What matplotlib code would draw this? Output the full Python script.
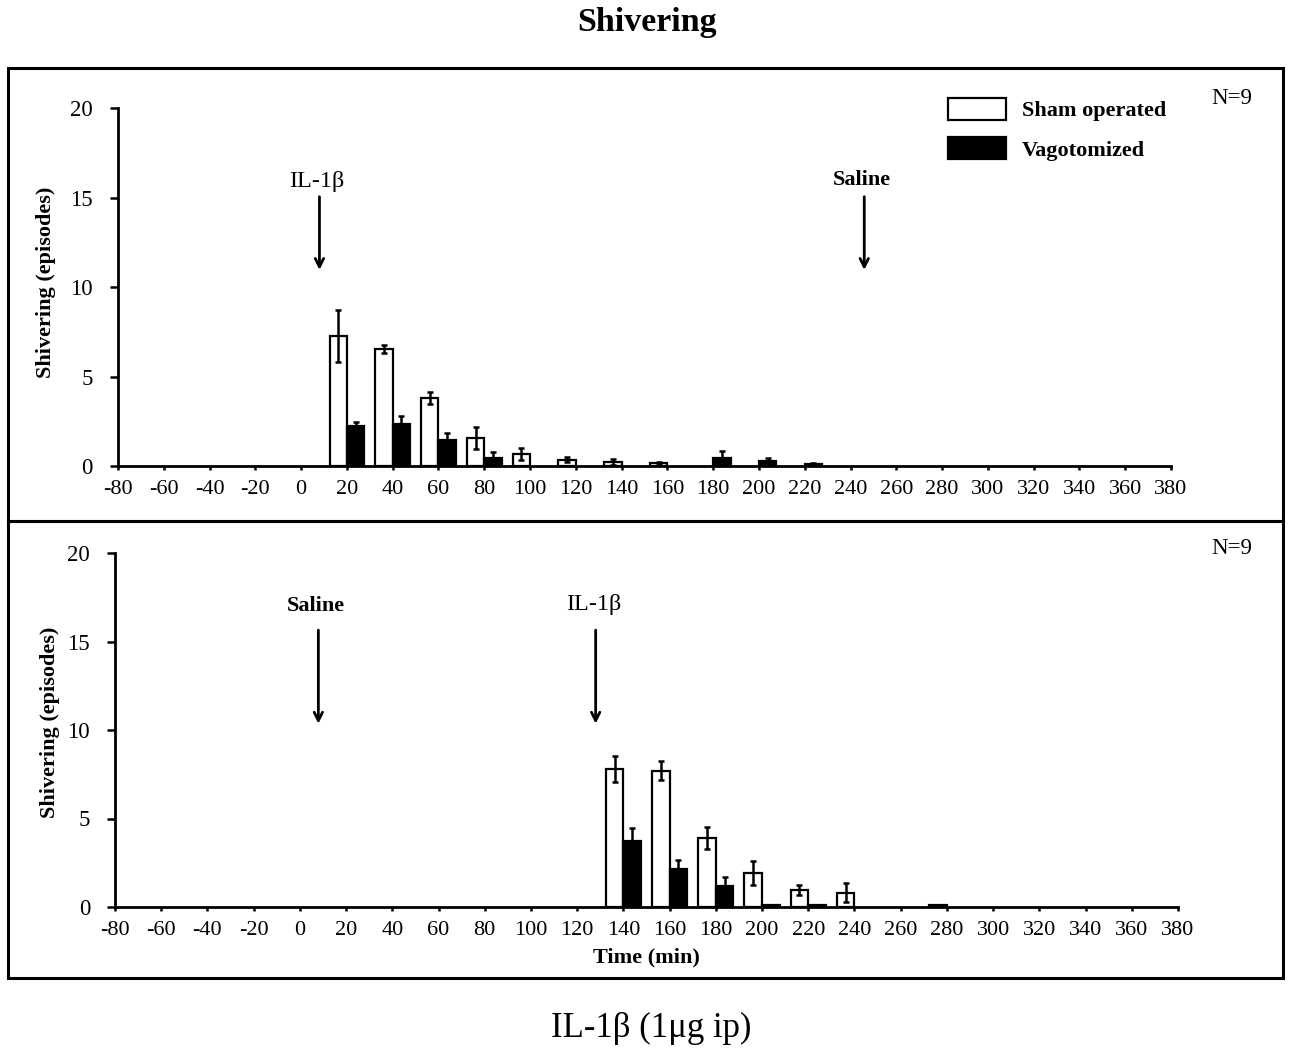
import matplotlib
matplotlib.use('Agg')
import matplotlib.pyplot as plt
from matplotlib.patches import Rectangle
import numpy as np

plt.rcParams['font.family'] = ['Liberation Serif', 'DejaVu Serif']

# ---- data ----
time_ticks = list(range(-80, 381, 20))
y_ticks = [0, 5, 10, 15, 20]

top_times = [20, 40, 60, 80, 100, 120, 140, 160, 180, 200, 220]
top_sham = [7.25, 6.54, 3.79, 1.55, 0.65, 0.35, 0.24, 0.15, 0, 0, 0]
top_sham_err = [1.45, 0.24, 0.34, 0.62, 0.34, 0.15, 0.17, 0.05, 0, 0, 0]
top_vago = [2.24, 2.33, 1.46, 0.47, 0, 0, 0, 0, 0.47, 0.28, 0.13]
top_vago_err = [0.2, 0.49, 0.41, 0.3, 0, 0, 0, 0, 0.39, 0.15, 0.05]

bot_times = [140, 160, 180, 200, 220, 240, 260, 280]
bot_sham = [7.8, 7.7, 3.9, 1.9, 0.96, 0.81, 0, 0.09]
bot_sham_err = [0.71, 0.55, 0.64, 0.68, 0.26, 0.53, 0, 0.04]
bot_vago = [3.75, 2.15, 1.17, 0.09, 0.11, 0, 0, 0]
bot_vago_err = [0.71, 0.53, 0.55, 0.03, 0.03, 0, 0, 0]

series_labels = ['Sham operated', 'Vagotomized']

# annotations: (label, x, y_text, y_arrow_start, y_arrow_end, bold)
top_marks = [('IL-1β', 8, 15.9, 15.2, 10.8, False),
             ('Saline', 246, 16.0, 15.2, 10.8, True)]
bot_marks = [('Saline', 8, 17.0, 15.8, 10.2, True),
             ('IL-1β', 128, 17.1, 15.8, 10.2, False)]

W, H = 1290, 1050
fig = plt.figure(figsize=(W / 100, H / 100), dpi=100)


def fx(px):
    return px / W


def fy(py):
    return 1 - py / H


bar_w = 7.6


def draw_panel(ax, times, sham, sham_err, vago, vago_err, marks):
    t = np.array(times, dtype=float)
    s = np.array(sham, dtype=float)
    se = np.array(sham_err, dtype=float)
    v = np.array(vago, dtype=float)
    ve = np.array(vago_err, dtype=float)
    ms = s > 0
    mv = v > 0
    b1 = ax.bar(t[ms] - bar_w / 2, s[ms], width=bar_w, color='white',
                edgecolor='black', linewidth=1.6, label=series_labels[0], zorder=2)
    b2 = ax.bar(t[mv] + bar_w / 2, v[mv], width=bar_w, color='black',
                edgecolor='black', linewidth=1.6, label=series_labels[1], zorder=2)
    m1 = se > 0
    ax.errorbar(t[m1] - bar_w / 2, s[m1], yerr=se[m1], fmt='none', ecolor='black',
                elinewidth=1.8, capsize=2.5, capthick=1.8, zorder=3)
    m2 = ve > 0
    ax.errorbar(t[m2] + bar_w / 2, v[m2], yerr=ve[m2], fmt='none', ecolor='black',
                elinewidth=1.8, capsize=2.5, capthick=1.8, zorder=3)
    ax.set_xlim(-80, 380)
    ax.set_ylim(0, 20)
    ax.set_xticks(time_ticks)
    ax.set_xticklabels([str(v) for v in time_ticks])
    ax.set_yticks(y_ticks)
    for sp in ['top', 'right']:
        ax.spines[sp].set_visible(False)
    for sp in ['left', 'bottom']:
        ax.spines[sp].set_linewidth(2)
    ax.tick_params(axis='y', direction='out', length=6, width=1.8, pad=12, labelsize=16.5)
    ax.tick_params(axis='x', direction='out', length=3, width=1.8, pad=7, labelsize=16)
    for lab, x, yt, y0, y1, bold in marks:
        ax.text(x - 1, yt, lab, ha='center', va='center',
                fontsize=16 if bold else 17.5,
                fontweight='bold' if bold else 'normal')
        ax.annotate('', xy=(x, y1), xytext=(x, y0),
                    arrowprops=dict(arrowstyle='->,head_length=0.6,head_width=0.3',
                                    lw=2, color='black'))
    return b1, b2


ax1 = fig.add_axes([fx(118), fy(466), fx(1171) - fx(118), (466 - 108) / H])
b1, b2 = draw_panel(ax1, top_times, top_sham, top_sham_err, top_vago, top_vago_err, top_marks)

ax2 = fig.add_axes([fx(115), fy(907), fx(1178) - fx(115), (907 - 553) / H])
draw_panel(ax2, bot_times, bot_sham, bot_sham_err, bot_vago, bot_vago_err, bot_marks)

leg = ax1.legend(handles=[b1, b2], labels=series_labels, loc='upper left',
                 bbox_to_anchor=(fx(948), fy(98)), bbox_transform=fig.transFigure,
                 frameon=False, borderpad=0, borderaxespad=0,
                 handlelength=2.6, handleheight=1.12, handletextpad=0.72,
                 labelspacing=0.72, prop={'size': 16, 'weight': 'bold'})

# y labels
fig.text(fx(46), fy(282), 'Shivering (episodes)', rotation=90, ha='center', va='center',
         fontsize=16, fontweight='bold')
fig.text(fx(50), fy(722), 'Shivering (episodes)', rotation=90, ha='center', va='center',
         fontsize=16, fontweight='bold')

# N labels
fig.text(fx(1232), fy(98), 'N=9', ha='center', va='center', fontsize=16.5)
fig.text(fx(1232), fy(548), 'N=9', ha='center', va='center', fontsize=16.5)

# x label
fig.text(fx(646), fy(957), 'Time (min)', ha='center', va='center', fontsize=16,
         fontweight='bold')

# titles
fig.text(fx(647), fy(22), 'Shivering', ha='center', va='center', fontsize=24.5,
         fontweight='bold')
fig.text(fx(651), fy(1028), 'IL-1β (1μg ip)', ha='center', va='center', fontsize=25)

# frames
fig.add_artist(Rectangle((fx(8), fy(521)), fx(1283) - fx(8), (521 - 68) / H,
                         transform=fig.transFigure, fill=False, lw=2.2, ec='black'))
fig.add_artist(Rectangle((fx(8), fy(978)), fx(1283) - fx(8), (978 - 521) / H,
                         transform=fig.transFigure, fill=False, lw=2.2, ec='black'))

fig.savefig('out.png', dpi=100)
